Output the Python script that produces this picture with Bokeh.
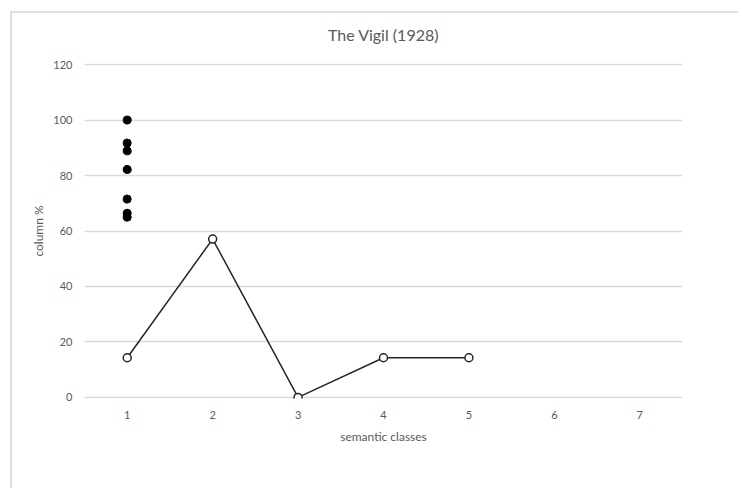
from bokeh.plotting import figure
from bokeh.models import Range1d, FixedTicker, InlineStyleSheet
from bokeh.embed import file_html
from bokeh.resources import INLINE

# data
classes = [1, 2, 3, 4, 5]
line_values = [14.3, 57.1, 0, 14.3, 14.3]
dot_x = [1, 1, 1, 1, 1, 1, 1]
dot_values = [100, 91.7, 88.9, 82.2, 71.5, 66.4, 65.0]
x_ticks = [1, 2, 3, 4, 5, 6, 7]
y_ticks = [0, 20, 40, 60, 80, 100, 120]
title_text = "The Vigil (1928)"

TXT = "#595959"
GRID = "#d9d9d9"
FONT = "Lato"

p = figure(width=738, height=486, output_backend="svg", toolbar_location=None,
           x_range=Range1d(0.5, 7.5), y_range=Range1d(-0.4, 120.4),
           min_border_left=84, min_border_right=56, min_border_top=50, min_border_bottom=90,
           title=title_text)
p.margin = (2, 0, 0, 0)
p.stylesheets = [InlineStyleSheet(css=""":host::after {
  content: ''; position: absolute; left: 10px; top: 9px; right: 0; bottom: 0;
  border-top: 2px solid #dedede; border-left: 2px solid #dedede;
  pointer-events: none; z-index: 5;
}""")]
p.outline_line_color = None
p.background_fill_color = "white"
p.border_fill_color = "white"

p.title.align = "center"
p.title.text_font = FONT
p.title.text_font_style = "normal"
p.title.text_font_size = "16px"
p.title.text_color = TXT
p.title.offset = 0
p.title.standoff = 40

p.xaxis.ticker = FixedTicker(ticks=x_ticks)
p.yaxis.ticker = FixedTicker(ticks=y_ticks)
for ax in (p.xaxis[0], p.yaxis[0]):
    ax.major_tick_line_color = None
    ax.minor_tick_line_color = None
    ax.major_label_text_font = FONT
    ax.major_label_text_font_size = "11px"
    ax.major_label_text_color = TXT
    ax.axis_label_text_font = FONT
    ax.axis_label_text_font_size = "12px"
    ax.axis_label_text_font_style = "normal"
    ax.axis_label_text_color = TXT
p.yaxis.axis_line_color = None
p.xaxis.axis_line_color = None
p.xaxis.axis_label = "semantic classes"
p.yaxis.axis_label = "column %"
p.yaxis.major_label_standoff = 6
p.xaxis.major_label_standoff = 6
p.xaxis.axis_label_standoff = 7
p.yaxis.axis_label_standoff = 4

p.xgrid.grid_line_color = None
p.ygrid.grid_line_color = GRID
p.ygrid.grid_line_width = 1.5

p.line(classes, line_values, line_color="#262626", line_width=1.5)
p.scatter(classes, line_values, size=8, fill_color="white", line_color="#262626", line_width=1.5)
p.scatter(dot_x, dot_values, size=8, fill_color="black", line_color="black")

open("out.html", "w").write(file_html(p, INLINE))
